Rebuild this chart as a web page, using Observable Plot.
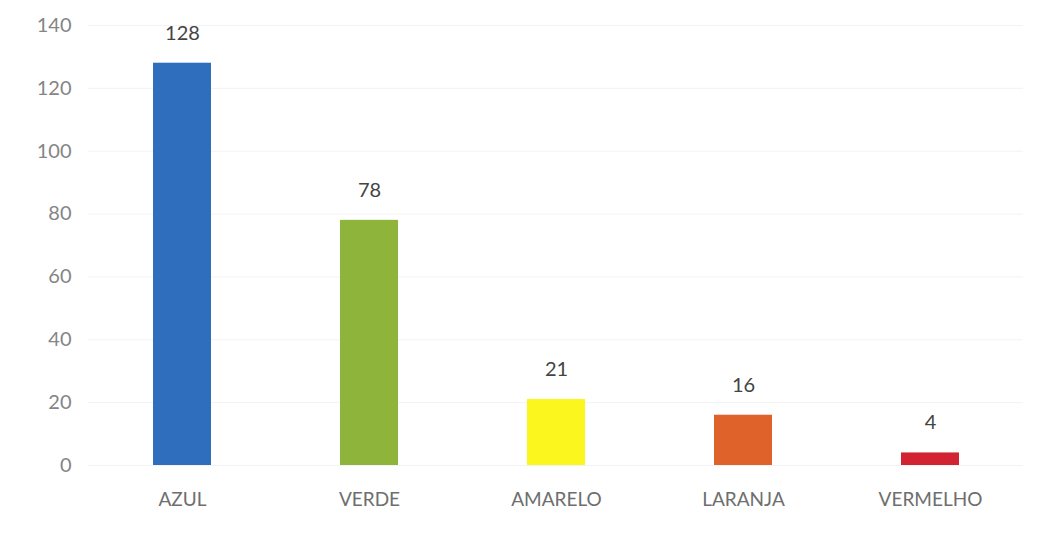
<!DOCTYPE html>
<html>
<head>
<meta charset="utf-8">
<script src="https://cdn.jsdelivr.net/npm/d3@7"></script>
<script src="https://cdn.jsdelivr.net/npm/@observablehq/plot@0.6"></script>
<style>
  html, body { margin: 0; padding: 0; background: #fff; }
</style>
</head>
<body>
<div id="chart"></div>
<script>
const categories = ["AZUL", "VERDE", "AMARELO", "LARANJA", "VERMELHO"];
const values = [128, 78, 21, 16, 4];
const colors = ["#2f6ebd", "#8fb43c", "#fbf61e", "#df622b", "#d22332"];
const yTicks = [0, 20, 40, 60, 80, 100, 120, 140];

const data = categories.map((c, i) => ({category: c, value: values[i], color: colors[i]}));

const chart = Plot.plot({
  width: 1043,
  height: 533,
  marginTop: 25,
  marginBottom: 68,
  marginLeft: 88,
  marginRight: 20,
  style: {fontFamily: "Lato, 'Open Sans', sans-serif", background: "#fff"},
  x: {domain: categories, paddingInner: 0.69, paddingOuter: 0.345, label: null},
  y: {domain: [0, 140], label: null},
  marks: [
    Plot.gridY(yTicks, {stroke: "#f3f3f3", strokeOpacity: 1}),
    Plot.axisY(yTicks, {tickSize: 0, tickPadding: 17, fontSize: 20, fill: "#858585", label: null}),
    Plot.axisX({tickSize: 0, tickPadding: 27, fontSize: 19, fill: "#6e6e6e", label: null}),
    Plot.barY(data, {x: "category", y: "value", fill: "color"}),
    Plot.text(data, {x: "category", y: "value", text: d => String(d.value), dy: -30, fontSize: 20, fill: "#444"})
  ]
});
document.getElementById("chart").appendChild(chart);
</script>
</body>
</html>
